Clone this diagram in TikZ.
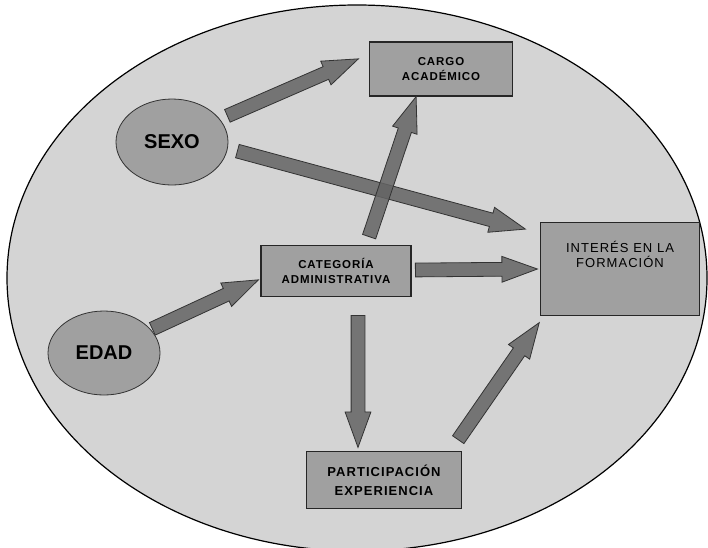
\documentclass[tikz,border=0pt]{standalone}
\usepackage{fontspec}
\setmainfont{Liberation Sans}
\newfontfamily\espaciada[LetterSpace=8]{Liberation Sans}
\usetikzlibrary{calc,shapes.arrows,shapes.geometric}
\definecolor{fondo}{RGB}{212,212,212}
\definecolor{caja}{RGB}{160,160,160}
\definecolor{flechagris}{RGB}{100,100,100}
\tikzset{
  caja/.style={draw=black!85, line width=1.2pt, fill=caja, align=center, inner sep=0pt},
  ovalo/.style={ellipse, draw=black!80, line width=0.8pt, fill=caja, inner sep=0pt, font=\bfseries\fontsize{20}{22}\selectfont},
  bloque/.style={single arrow, draw=black!80, line width=0.8pt, fill=flechagris, fill opacity=0.85, inner xsep=0pt, inner ysep=6.5pt, minimum width=0pt, single arrow head extend=6pt, single arrow tip angle=40, single arrow head indent=0pt}
}
\newcommand{\flecha}[2]{\path let \p1=($(#2)-(#1)$), \n1={atan2(\y1,\x1)}, \n2={veclen(\x1,\y1)} in node[bloque, minimum height=\n2, rotate=\n1, anchor=tail] at (#1) {};}
\begin{document}
\begin{tikzpicture}[x=1pt, y=-1pt]
\useasboundingbox (0,0) rectangle (708,547);
\draw[line width=1.2pt, fill=fondo] (357,278) ellipse (350 and 273);
% nodos
\node[ovalo, minimum width=112pt, minimum height=86pt] (sexo) at (172,142) {SEXO};
\node[ovalo, minimum width=112pt, minimum height=84pt] (edad) at (104,353) {EDAD};
\node[caja, minimum width=143pt, minimum height=54pt, font=\espaciada\bfseries\fontsize{11.5}{15}\selectfont] (cargo) at (441,69) {CARGO\\ACADÉMICO};
\node[caja, minimum width=150pt, minimum height=51pt, font=\espaciada\bfseries\fontsize{11.5}{15}\selectfont] (categoria) at (336,271) {CATEGORÍA\\ADMINISTRATIVA};
\node[caja, minimum width=159pt, minimum height=93pt, font=\espaciada\fontsize{13}{15}\selectfont] (interes) at (620,269) {INTERÉS EN LA\\FORMACIÓN\\[14pt]};
\node[caja, minimum width=155pt, minimum height=57pt, font=\espaciada\bfseries\fontsize{13}{19}\selectfont] (participacion) at (384,480) {PARTICIPACIÓN\\EXPERIENCIA};
% extremos de las flechas
\coordinate (a1) at (227,116); \coordinate (b1) at (358,59);
\coordinate (a2) at (237,151); \coordinate (b2) at (525,229);
\coordinate (a3) at (369,237); \coordinate (b3) at (416,97);
\coordinate (a4) at (415,270); \coordinate (b4) at (537,269);
\coordinate (a5) at (152,329); \coordinate (b5) at (258,280);
\coordinate (a6) at (358,315); \coordinate (b6) at (358,447);
\coordinate (a7) at (458,440); \coordinate (b7) at (539,323);
\flecha{a1}{b1}
\flecha{a2}{b2}
\flecha{a3}{b3}
\flecha{a4}{b4}
\flecha{a5}{b5}
\flecha{a6}{b6}
\flecha{a7}{b7}
\end{tikzpicture}
\end{document}
